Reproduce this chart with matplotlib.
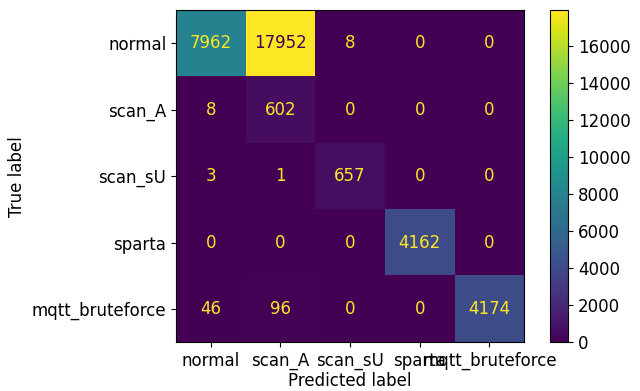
import numpy as np
import matplotlib
matplotlib.use('Agg')
from matplotlib import pyplot as plt

labels = ['normal', 'scan_A', 'scan_sU', 'sparta', 'mqtt_bruteforce']
cm = np.array([
    [7962, 17952, 8, 0, 0],
    [8, 602, 0, 0, 0],
    [3, 1, 657, 0, 0],
    [0, 0, 0, 4162, 0],
    [46, 96, 0, 0, 4174],
])

plt.rcParams['font.size'] = 12

fig = plt.figure(figsize=(6.4, 3.91), dpi=100)
ax = fig.add_axes([0.275, 0.125, 0.544, 0.849])
cax = fig.add_axes([0.859, 0.125, 0.029, 0.849])

cmap = plt.get_cmap('viridis')
im = ax.imshow(cm, cmap=cmap, aspect='auto', interpolation='nearest')

# text colour like sklearn's ConfusionMatrixDisplay
thresh = (cm.max() + cm.min()) / 2.0
for i in range(cm.shape[0]):
    for j in range(cm.shape[1]):
        color = cmap(0.0) if cm[i, j] > thresh else cmap(1.0)
        ax.text(j, i, str(cm[i, j]), ha='center', va='center', color=color, fontsize=12)

ax.set_xticks(range(len(labels)))
ax.set_xticklabels(labels)
ax.set_yticks(range(len(labels)))
ax.set_yticklabels(labels)
ax.set_xlabel('Predicted label', labelpad=1)
ax.set_ylabel('True label')

cb = fig.colorbar(im, cax=cax)
cb.set_ticks(np.arange(0, 16001, 2000))

plt.savefig('out.png', dpi=100)
